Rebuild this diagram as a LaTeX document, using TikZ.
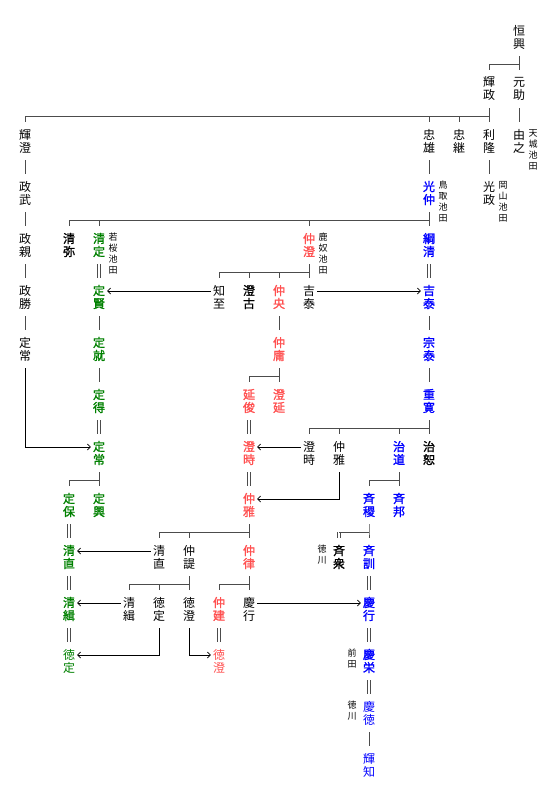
\documentclass[tikz,border=0pt]{standalone}
\usepackage{fontspec}
\usepackage{xcolor}
\usetikzlibrary{positioning,arrows.meta}
\newfontfamily\jp[AutoFakeBold=1.5]{Noto Sans CJK JP}
\definecolor{tottori}{RGB}{0,0,255}
\definecolor{wakasa}{RGB}{0,128,0}
\definecolor{shikano}{RGB}{255,80,80}
\tikzset{
  nm/.style={font=\jp\fontsize{12}{13}\selectfont, align=center, inner sep=0pt, minimum width=16pt, minimum height=38pt},
  futo/.style={font=\jp\bfseries\fontsize{12}{13}\selectfont},
  tori/.style={text=tottori},
  waka/.style={text=wakasa},
  shika/.style={text=shikano},
  fuda/.style={font=\jp\fontsize{9}{11}\selectfont, align=center, inner sep=0pt, anchor=north},
  kei/.style={draw=black!70, line width=0.9pt},
  nyu/.style={draw=black!70, line width=0.8pt, double, double distance=1.6pt},
  yo/.style={draw=black, line width=0.7pt, -{Straight Barb[length=3pt,width=6pt]}}
}

\begin{document}
\begin{tikzpicture}[x=1pt, y=-1pt, on grid, node distance=52pt and 30pt]
  \useasboundingbox (0,0) rectangle (554,800);

  \node[nm] (tsuneoki) at (519,37) {恒\\興};
  \node[nm, below=of tsuneoki] (motosuke) {元\\助};
  \node[nm, left=of motosuke] (terumasa) {輝\\政};
  \node[nm, below=of motosuke] (yoshiyuki) {由\\之};
  \node[nm, left=of yoshiyuki] (toshitaka) {利\\隆};
  \node[nm, left=of toshitaka] (tadatsugu) {忠\\継};
  \node[nm, left=of tadatsugu] (tadakatsu) {忠\\雄};
  \node[nm, left=404pt of tadakatsu] (teruzumi) {輝\\澄};
  \node[nm, below=of teruzumi] (masatake) {政\\武};
  \node[nm, below=of masatake] (masachika) {政\\親};
  \node[nm, below=of masachika] (masakatsu) {政\\勝};
  \node[nm, below=of masakatsu] (sadatsune1) {定\\常};
  \node[nm, futo, tori, below=of tadakatsu] (mitsunaka) {光\\仲};
  \node[nm, below=of toshitaka] (mitsumasa) {光\\政};

  \node[nm, futo, tori, below=of mitsunaka] (tsunakiyo) {綱\\清};
  \node[nm, futo, shika, left=120pt of tsunakiyo] (nakazumi) {仲\\澄};
  \node[nm, futo, waka, left=210pt of nakazumi] (kiyosada) {清\\定};
  \node[nm, futo, left=of kiyosada] (kiyomitsu) {清\\弥};

  \node[nm, futo, waka, below=of kiyosada] (sadakata) {定\\賢};
  \node[nm, below=of nakazumi] (yoshiyasu1) {吉\\泰};
  \node[nm, futo, shika, left=of yoshiyasu1] (nakateru) {仲\\央};
  \node[nm, futo, left=of nakateru] (sumifuru) {澄\\古};
  \node[nm, left=of sumifuru] (tomoyuki) {知\\至};
  \node[nm, futo, tori, below=of tsunakiyo] (yoshiyasu2) {吉\\泰};

  \node[nm, futo, waka, below=of sadakata] (sadanari) {定\\就};
  \node[nm, futo, shika, below=of nakateru] (nakatsune) {仲\\庸};
  \node[nm, futo, tori, below=of yoshiyasu2] (muneyasu) {宗\\泰};

  \node[nm, futo, waka, below=of sadanari] (sadanori) {定\\得};
  \node[nm, futo, shika, below=of nakatsune] (suminobu) {澄\\延};
  \node[nm, futo, shika, left=of suminobu] (nobutoshi) {延\\俊};
  \node[nm, futo, tori, below=of muneyasu] (shigenobu) {重\\寛};

  \node[nm, futo, waka, below=of sadanori] (sadatsune2) {定\\常};
  \node[nm, futo, shika, below=of nobutoshi] (sumitoki1) {澄\\時};
  \node[nm, futo, below=of shigenobu] (harunobu) {治\\恕};
  \node[nm, futo, tori, left=of harunobu] (harumichi) {治\\道};
  \node[nm, left=60pt of harumichi] (nakamasa1) {仲\\雅};
  \node[nm, left=of nakamasa1] (sumitoki2) {澄\\時};

  \node[nm, futo, waka, below=of sadatsune2] (sadaoki) {定\\興};
  \node[nm, futo, waka, left=of sadaoki] (sadayasu) {定\\保};
  \node[nm, futo, shika, below=of sumitoki1] (nakamasa2) {仲\\雅};
  \node[nm, futo, tori, below=of harumichi] (narikuni) {斉\\邦};
  \node[nm, futo, tori, left=of narikuni] (narimichi) {斉\\稷};

  \node[nm, futo, waka, below=of sadayasu] (kiyonao1) {清\\直};
  \node[nm, futo, shika, below=of nakamasa2] (nakanori) {仲\\律};
  \node[nm, left=60pt of nakanori] (nakanobu) {仲\\諟};
  \node[nm, left=of nakanobu] (kiyonao2) {清\\直};
  \node[nm, futo, tori, below=of narimichi] (naritoshi) {斉\\訓};
  \node[nm, futo, left=of naritoshi] (narinaka) {斉\\衆};

  \node[nm, futo, waka, below=of kiyonao1] (kiyotsugu1) {清\\緝};
  \node[nm, below=of nakanobu] (norizumi2) {徳\\澄};
  \node[nm, left=of norizumi2] (noritada2) {徳\\定};
  \node[nm, left=of noritada2] (kiyotsugu2) {清\\緝};
  \node[nm, below=of nakanori] (yoshiyukiA) {慶\\行};
  \node[nm, futo, shika, left=of yoshiyukiA] (nakatake) {仲\\建};
  \node[nm, futo, tori, below=of naritoshi] (yoshiyukiB) {慶\\行};

  \node[nm, waka, below=of kiyotsugu1] (noritada1) {徳\\定};
  \node[nm, shika, below=of nakatake] (norizumi1) {徳\\澄};
  \node[nm, futo, tori, below=of yoshiyukiB] (yoshitaka) {慶\\栄};
  \node[nm, tori, below=of yoshitaka] (yoshinori) {慶\\徳};
  \node[nm, tori, below=of yoshinori] (terutomo) {輝\\知};

  \node[fuda] (amagi) at ([xshift=14pt, yshift=12pt]yoshiyuki.center) {天\\城\\池\\田};
  \node[fuda] (tottoriL) at ([xshift=14pt, yshift=12pt]mitsunaka.center) {鳥\\取\\池\\田};
  \node[fuda] (okayama) at ([xshift=14pt, yshift=12pt]mitsumasa.center) {岡\\山\\池\\田};
  \node[fuda] (wakasaL) at ([xshift=14pt, yshift=12pt]kiyosada.center) {若\\桜\\池\\田};
  \node[fuda] (shikanoL) at ([xshift=14pt, yshift=12pt]nakazumi.center) {鹿\\奴\\池\\田};
  \node[fuda] (tokugawa1) at ([xshift=-17pt, yshift=12pt]narinaka.center) {徳\\川};
  \node[fuda] (maeda) at ([xshift=-17pt, yshift=12pt]yoshitaka.center) {前\\田};
  \node[fuda] (tokugawa2) at ([xshift=-17pt, yshift=12pt]yoshinori.center) {徳\\川};

  \draw[kei] (tsuneoki.south) -- ++(0,8) coordinate (b0);
  \foreach \c in {terumasa,motosuke} \draw[kei] (b0) -| (\c.north);
  \draw[kei] (terumasa.south) -- ++(0,8) coordinate (b1);
  \foreach \c in {teruzumi,tadakatsu,tadatsugu,toshitaka} \draw[kei] (b1) -| (\c.north);
  \draw[kei] (mitsunaka.south) -- ++(0,8) coordinate (b2);
  \foreach \c in {kiyomitsu,kiyosada,nakazumi,tsunakiyo} \draw[kei] (b2) -| (\c.north);
  \draw[kei] (nakazumi.south) -- ++(0,8) coordinate (b3);
  \foreach \c in {tomoyuki,sumifuru,nakateru,yoshiyasu1} \draw[kei] (b3) -| (\c.north);
  \draw[kei] (nakatsune.south) -- ++(0,8) coordinate (b4);
  \foreach \c in {nobutoshi,suminobu} \draw[kei] (b4) -| (\c.north);
  \draw[kei] (shigenobu.south) -- ++(0,8) coordinate (b5);
  \foreach \c in {sumitoki2,nakamasa1,harumichi,harunobu} \draw[kei] (b5) -| (\c.north);
  \draw[kei] (sadatsune2.south) -- ++(0,8) coordinate (b6);
  \foreach \c in {sadayasu,sadaoki} \draw[kei] (b6) -| (\c.north);
  \draw[kei] (harumichi.south) -- ++(0,8) coordinate (b7);
  \foreach \c in {narimichi,narikuni} \draw[kei] (b7) -| (\c.north);
  \draw[kei] (nakamasa2.south) -- ++(0,8) coordinate (b8);
  \foreach \c in {kiyonao2,nakanobu,nakanori} \draw[kei] (b8) -| (\c.north);
  \draw[kei] (nakanobu.south) -- ++(0,8) coordinate (b9);
  \foreach \c in {kiyotsugu2,noritada2,norizumi2} \draw[kei] (b9) -| (\c.north);
  \draw[kei] (nakanori.south) -- ++(0,8) coordinate (b10);
  \foreach \c in {nakatake,yoshiyukiA} \draw[kei] (b10) -| (\c.north);
  \draw[kei] (narimichi.south) -- ++(0,8) coordinate (b11) -| (naritoshi.north);
  \draw[nyu] (b11 -| narinaka) -- (narinaka.north);
  \draw[kei] (b11) -- (b11 -| narinaka);

  \draw[kei] (motosuke) -- (yoshiyuki);
  \draw[kei] (teruzumi) -- (masatake) -- (masachika) -- (masakatsu) -- (sadatsune1);
  \draw[kei] (tadakatsu) -- (mitsunaka);
  \draw[kei] (toshitaka) -- (mitsumasa);
  \draw[kei] (sadakata) -- (sadanari) -- (sadanori);
  \draw[kei] (yoshiyasu2) -- (muneyasu) -- (shigenobu);
  \draw[kei] (nakateru) -- (nakatsune);
  \draw[kei] (yoshinori) -- (terutomo);

  \draw[nyu] (kiyosada) -- (sadakata);
  \draw[nyu] (sadanori) -- (sadatsune2);
  \draw[nyu] (tsunakiyo) -- (yoshiyasu2);
  \draw[nyu] (nobutoshi) -- (sumitoki1);
  \draw[nyu] (sumitoki1) -- (nakamasa2);
  \draw[nyu] (sadayasu) -- (kiyonao1);
  \draw[nyu] (kiyonao1) -- (kiyotsugu1);
  \draw[nyu] (kiyotsugu1) -- (noritada1);
  \draw[nyu] (nakatake) -- (norizumi1);
  \draw[nyu] (naritoshi) -- (yoshiyukiB);
  \draw[nyu] (yoshiyukiB) -- (yoshitaka);
  \draw[nyu] (yoshitaka) -- (yoshinori);

  \draw[yo] ([yshift=6pt]tomoyuki.west) -- ([yshift=6pt]sadakata.east);
  \draw[yo] ([yshift=6pt]yoshiyasu1.east) -- ([yshift=6pt]yoshiyasu2.west);
  \draw[yo] (sadatsune1.south) |- ([yshift=6pt]sadatsune2.west);
  \draw[yo] ([yshift=6pt]sumitoki2.west) -- ([yshift=6pt]sumitoki1.east);
  \draw[yo] (nakamasa1.south) |- ([yshift=6pt]nakamasa2.east);
  \draw[yo] ([yshift=6pt]kiyonao2.west) -- ([yshift=6pt]kiyonao1.east);
  \draw[yo] ([yshift=6pt]kiyotsugu2.west) -- ([yshift=6pt]kiyotsugu1.east);
  \draw[yo] (noritada2.south) |- ([yshift=6pt]noritada1.east);
  \draw[yo] (norizumi2.south) |- ([yshift=6pt]norizumi1.west);
  \draw[yo] ([yshift=6pt]yoshiyukiA.east) -- ([yshift=6pt]yoshiyukiB.west);
\end{tikzpicture}
\end{document}
